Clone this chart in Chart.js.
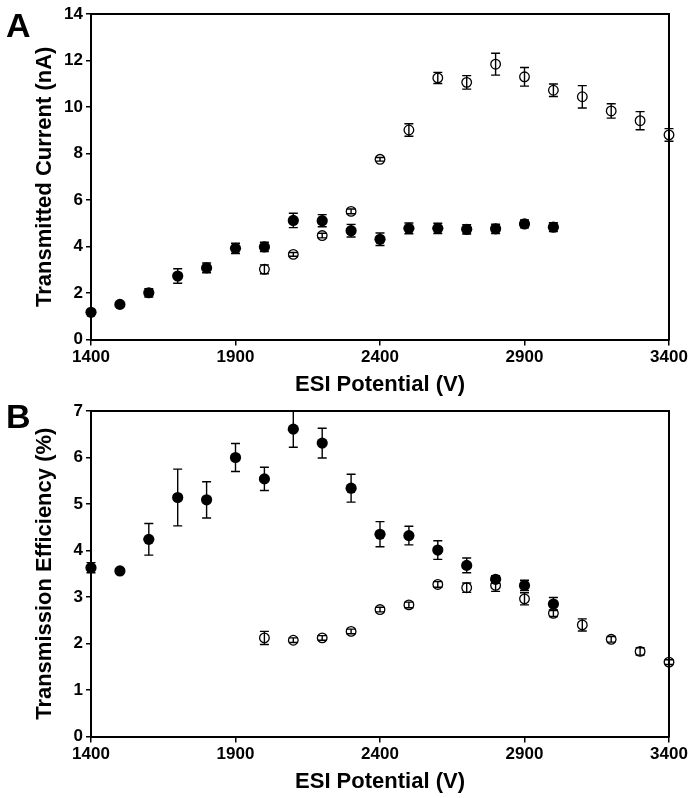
<!DOCTYPE html>
<html><head><meta charset="utf-8">
<script src="https://cdn.jsdelivr.net/npm/chart.js@4.4.0/dist/chart.umd.min.js"></script>
<style>
html,body{margin:0;padding:0;background:#fff;}
#wrap{position:relative;width:696px;height:798px;overflow:hidden;background:#fff;}
.panel{position:absolute;left:0;width:696px;height:398px;}
.lbl{position:absolute;left:6px;font:bold 34px "Liberation Sans",Arial,sans-serif;line-height:1;color:#000;}
</style></head><body>
<div id="wrap">
 <div class="panel" style="top:0"><canvas id="cA"></canvas></div>
 <div class="panel" style="top:397px"><canvas id="cB"></canvas></div>
 <div class="lbl" style="top:8px">A</div>
 <div class="lbl" style="top:399px">B</div>
</div>
<script>
// ---- data ----
const voltsFilled = [1400,1500,1600,1700,1800,1900,2000,2100,2200,2300,2400,2500,2600,2700,2800,2900,3000];
const voltsOpen = [2000,2100,2200,2300,2400,2500,2600,2700,2800,2900,3000,3100,3200,3300,3400];

const currentFilled = [1.17,1.51,2.01,2.73,3.08,3.92,3.98,5.12,5.11,4.68,4.31,4.78,4.78,4.74,4.76,4.97,4.83];
const currentFilledErr = [0.06,0.07,0.18,0.31,0.21,0.22,0.20,0.31,0.26,0.27,0.27,0.23,0.22,0.20,0.20,0.17,0.19];
const currentOpen = [3.02,3.66,4.47,5.51,7.75,9.01,11.25,11.06,11.84,11.30,10.72,10.44,9.83,9.41,8.80];
const currentOpenErr = [0.19,0.08,0.10,0.10,0.08,0.27,0.24,0.29,0.47,0.40,0.27,0.48,0.31,0.39,0.27];

const effFilled = [3.63,3.56,4.24,5.14,5.09,6.00,5.54,6.61,6.31,5.34,4.35,4.32,4.01,3.68,3.38,3.25,2.85];
const effFilledErr = [0.11,0.04,0.34,0.61,0.39,0.30,0.25,0.39,0.32,0.30,0.27,0.20,0.20,0.16,0.08,0.11,0.14];
const effOpen = [2.12,2.07,2.12,2.26,2.73,2.83,3.27,3.20,3.25,2.96,2.65,2.40,2.09,1.83,1.60];
const effOpenErr = [0.14,0.05,0.05,0.05,0.05,0.06,0.06,0.10,0.13,0.13,0.07,0.13,0.06,0.08,0.05];

const xTickValues = [1400,1900,2400,2900,3400];
const yTicksA = [0,2,4,6,8,10,12,14];
const yTicksB = [0,1,2,3,4,5,6,7];

// ---- styling ----
const FAMILY = '"Liberation Sans", Arial, Helvetica, sans-serif';
const tickFont = {family: FAMILY, size: 17, weight: 'bold'};
const titleFont = {family: FAMILY, size: 22, weight: 'bold'};

const errorBarPlugin = {
  id: 'errorBars',
  beforeDatasetsDraw(chart) {
    const ctx = chart.ctx, x = chart.scales.x, y = chart.scales.y;
    ctx.save();
    ctx.strokeStyle = '#000';
    ctx.lineWidth = 1.4;
    chart.data.datasets.forEach(ds => {
      ds.data.forEach((p, i) => {
        const e = ds.errors[i];
        const px = x.getPixelForValue(p.x);
        const yt = y.getPixelForValue(p.y + e);
        const yb = y.getPixelForValue(p.y - e);
        ctx.beginPath();
        ctx.moveTo(px, yt); ctx.lineTo(px, yb);
        ctx.moveTo(px - 4.5, yt); ctx.lineTo(px + 4.5, yt);
        ctx.moveTo(px - 4.5, yb); ctx.lineTo(px + 4.5, yb);
        ctx.stroke();
      });
    });
    ctx.restore();
  }
};

const boxPlugin = {
  id: 'box',
  afterDatasetsDraw(chart) {
    const {ctx, chartArea: a} = chart;
    ctx.save();
    ctx.strokeStyle = '#000';
    ctx.lineWidth = 2;
    ctx.beginPath();
    ctx.moveTo(a.left - 1, a.top);
    ctx.lineTo(a.right, a.top);
    ctx.lineTo(a.right, a.bottom + 1);
    ctx.stroke();
    ctx.restore();
  }
};

function pts(xs, ys) { return xs.map((v, i) => ({x: v, y: ys[i]})); }

function makeChart(id, yTicks, yTitle, filled, filledErr, open, openErr) {
  return new Chart(document.getElementById(id), {
    type: 'scatter',
    data: {
      datasets: [
        {data: pts(voltsOpen, open), errors: openErr, pointStyle: 'circle', pointRadius: 4.8,
         pointBackgroundColor: 'rgba(0,0,0,0)', pointBorderColor: '#000', pointBorderWidth: 1.3, clip: false},
        {data: pts(voltsFilled, filled), errors: filledErr, pointStyle: 'circle', pointRadius: 5.6,
         pointBackgroundColor: '#000', pointBorderColor: '#000', pointBorderWidth: 0, clip: false}
      ]
    },
    options: {
      responsive: true, maintainAspectRatio: false, animation: false,
      events: [],
      layout: {padding: {top: 14, right: 27, left: 0, bottom: 0}},
      plugins: {legend: {display: false}, tooltip: {enabled: false}},
      scales: {
        x: {
          type: 'linear', min: 1400, max: 3400,
          afterBuildTicks: s => { s.ticks = xTickValues.map(v => ({value: v})); },
          afterFit: s => { s.height = 58.5; },
          ticks: {color: '#000', font: tickFont, padding: 2, maxRotation: 0, autoSkip: false,
                  callback: v => String(v)},
          grid: {drawOnChartArea: false, tickLength: 6, color: '#000', lineWidth: 1.5},
          border: {color: '#000', width: 2},
          title: {display: true, text: 'ESI Potential (V)', color: '#000', font: titleFont,
                  padding: {top: 0, bottom: 0}}
        },
        y: {
          type: 'linear', min: yTicks[0], max: yTicks[yTicks.length - 1],
          afterBuildTicks: s => { s.ticks = yTicks.map(v => ({value: v})); },
          afterFit: s => { s.width = 91; },
          ticks: {color: '#000', font: tickFont, padding: 3, autoSkip: false, callback: v => String(v)},
          grid: {drawOnChartArea: false, tickLength: 5, color: '#000', lineWidth: 1.5},
          border: {color: '#000', width: 2},
          title: {display: true, text: yTitle, color: '#000', font: titleFont,
                  padding: {top: 32, bottom: 0}}
        }
      }
    },
    plugins: [errorBarPlugin, boxPlugin]
  });
}

makeChart('cA', yTicksA, 'Transmitted Current (nA)', currentFilled, currentFilledErr, currentOpen, currentOpenErr);
makeChart('cB', yTicksB, 'Transmission Efficiency (%)', effFilled, effFilledErr, effOpen, effOpenErr);
</script>
</body></html>
